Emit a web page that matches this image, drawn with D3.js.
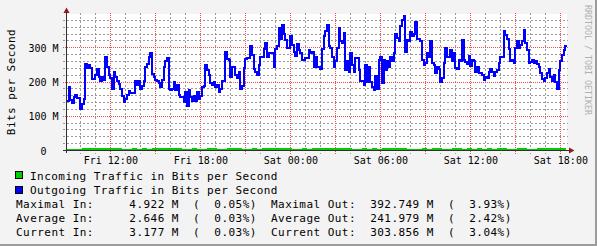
<!DOCTYPE html>
<html>
<head>
<meta charset="utf-8">
<script src="https://cdn.jsdelivr.net/npm/d3@7"></script>
<style>
body { margin: 0; background: #f3f3f3; }
svg { display: block; }
text { font-family: "DejaVu Sans Mono", monospace; fill: #000; }
</style>
</head>
<body>
<svg id="chart" width="597" height="246"></svg>
<script>
// outgoing traffic, Mbit/s, one sample every 400 s starting Fri 09:06:40
const outStart = new Date(2024, 0, 5, 9, 6, 40);
const outStepSec = 400;
const outM = [
  145,185,147,139,155,162,152,152,120,135,150,252,240,250,240,208,208,220,237,216,
  204,216,206,274,245,221,211,181,230,216,204,194,181,159,142,149,162,174,167,169,
  169,204,191,204,181,188,204,243,253,274,286,224,214,206,204,198,186,
  206,245,262,270,181,176,181,201,176,190,162,155,155,142,172,129,176,155,145,159,
  145,172,149,159,186,188,250,235,221,198,191,201,186,191,172,181,204,204,289,267,
  265,216,243,243,221,211,230,181,188,240,267,270,270,305,280,237,230,221,250,273,
  273,296,314,274,284,284,284,243,296,306,358,326,365,341,324,299,299,335,309,289,
  276,312,294,284,265,265,270,270,292,284,289,243,273,243,243,237,296,333,348,365,
  304,299,274,245,260,300,358,319,314,343,235,260,230,284,250,230,270,270,235,204,
  204,191,250,201,245,201,186,178,218,181,263,274,196,263,235,260,245,273,260,284,
  341,329,321,363,382,392.7,289,324,321,345,333,341,374,326,326,319,265,250,255,284,
  274,319,255,250,225,243,237,201,211,255,299,274,274,294,260,284,240,237,265,260,
  324,265,257,253,276,247,265,260,230,245,225,227,221,206,216,211,230,237,230,218,
  230,235,255,274,274,348,338,326,296,260,265,255,299,319,299,309,319,353,314,294,
  255,257,265,255,260,253,245,227,208,204,211,225,237,216,204,221,201,181,235,260,
  279,294,303.9
];

// incoming traffic, Mbit/s, one sample every 20 min from the same start
const inStepSec = 1200;
const inM = [
  2.2,2.0,2.3,2.5,4.2,4.4,4.0,2.6,2.4,3.9,4.1,2.3,1.8,2.5,2.2,3.8,2.0,2.4,2.6,4.3,
  4.6,4.9,4.1,2.2,2.0,2.5,2.3,2.1,3.9,2.4,2.2,2.0,2.6,4.0,3.8,2.3,2.1,2.4,2.2,2.5,
  2.6,3.9,4.1,4.0,3.7,2.3,2.0,2.4,2.2,2.5,3.8,4.0,3.9,4.2,3.8,4.0,2.6,2.3,2.1,2.4,
  2.2,2.5,2.3,3.9,4.1,3.8,3.7,2.4,2.2,2.0,2.3,2.5,2.1,2.6,2.4,2.2,1.4,2.5,2.7,2.3,
  2.4,2.2,2.6,2.1,2.5,2.3,2.8,2.4,2.2,2.0,2.5,2.6,2.3,2.1,2.6,2.7,2.5,2.6,2.7,3.18
];

const domainStart = new Date(2024, 0, 5, 9, 2, 40);
const domainEnd = new Date(2024, 0, 6, 18, 22, 40);

const xTickTimes = [
  new Date(2024, 0, 5, 12), new Date(2024, 0, 5, 18), new Date(2024, 0, 6, 0),
  new Date(2024, 0, 6, 6), new Date(2024, 0, 6, 12), new Date(2024, 0, 6, 18)
];
const xTickLabels = ["Fri 12:00", "Fri 18:00", "Sat 00:00", "Sat 06:00", "Sat 12:00", "Sat 18:00"];
const yTickValues = [0, 100, 200, 300];
const yTickLabels = ["0  ", "100 M", "200 M", "300 M"];

const legendLabels = ["Incoming Traffic in Bits per Second", "Outgoing Traffic in Bits per Second"];
const legendColors = ["#00cc00", "#0000ff"];
const statNames = ["Maximal", "Average", "Current"];
const inStat = ["4.922", "2.646", "3.177"];
const inPct = ["0.05", "0.03", "0.03"];
const outStat = ["392.749", "241.979", "303.856"];
const outPct = ["3.93", "2.42", "3.04"];

const svg = d3.select("#chart");

const x = d3.scaleTime().domain([domainStart, domainEnd]).range([66, 566]);
const y = d3.scaleLinear().domain([0, 400]).range([150.5, 13.5]);

// frame
svg.append("rect").attr("width", 597).attr("height", 246).attr("fill", "#f3f3f3");
svg.append("rect").attr("x", 595).attr("y", 0).attr("width", 2).attr("height", 246).attr("fill", "#9c9c9c");
svg.append("rect").attr("x", 0).attr("y", 244).attr("width", 597).attr("height", 2).attr("fill", "#9c9c9c");

// plot background
svg.append("rect").attr("x", 66).attr("y", 14).attr("width", 501).attr("height", 137).attr("fill", "#fff");

// grid
const grid = svg.append("g").attr("shape-rendering", "crispEdges").attr("stroke-width", 1);
const hours = d3.timeHour.range(domainStart, domainEnd);
const minorY = d3.range(20, 400, 20).filter(v => v % 100 !== 0);

grid.selectAll(".vmin").data(hours.filter(h => h.getHours() % 3 !== 0)).join("line")
  .attr("x1", d => x(d)).attr("x2", d => x(d)).attr("y1", 13).attr("y2", 154)
  .attr("stroke", "#9a9a9a").attr("stroke-dasharray", "2,2");
grid.selectAll(".hmin").data(minorY).join("line")
  .attr("x1", 63).attr("x2", 568).attr("y1", d => y(d)).attr("y2", d => y(d))
  .attr("stroke", "#9a9a9a").attr("stroke-dasharray", "2,2");
grid.selectAll(".vmaj").data(hours.filter(h => h.getHours() % 3 === 0)).join("line")
  .attr("x1", d => x(d)).attr("x2", d => x(d)).attr("y1", 13).attr("y2", 154)
  .attr("stroke", "#f05050").attr("stroke-dasharray", "1,1");
grid.selectAll(".hmaj").data([100, 200, 300]).join("line")
  .attr("x1", 63).attr("x2", 568).attr("y1", d => y(d)).attr("y2", d => y(d))
  .attr("stroke", "#f05050").attr("stroke-dasharray", "1,1");

// series
const inData = inM.map((v, i) => ({ t: new Date(+outStart + i * inStepSec * 1000), v }));
inData.push({ t: domainEnd, v: inM[inM.length - 1] });
const outData = outM.map((v, i) => ({ t: new Date(+outStart + i * outStepSec * 1000), v }));
outData.push({ t: new Date(+outStart + outM.length * outStepSec * 1000), v: outM[outM.length - 1] });

// area sits on top of the axis row, like rrdtool's pixel grid
svg.append("path").datum(inData)
  .attr("d", d3.area().x(d => x(d.t)).y0(y(0) - 0.5).y1(d => y(d.v) - 1.2).curve(d3.curveStepAfter))
  .attr("fill", "#00cc00").attr("shape-rendering", "crispEdges");

svg.append("path").datum(outData)
  .attr("d", d3.line().x(d => x(d.t)).y(d => y(d.v)).curve(d3.curveStepAfter))
  .attr("fill", "none").attr("stroke", "#0000ff").attr("stroke-width", 2)
  .attr("shape-rendering", "crispEdges");

// axis lines + arrows
svg.append("line").attr("x1", 63).attr("x2", 570).attr("y1", 150.5).attr("y2", 150.5).attr("stroke", "#303030");
svg.append("line").attr("x1", 66.5).attr("x2", 66.5).attr("y1", 11).attr("y2", 153).attr("stroke", "#303030");
svg.append("path").attr("d", "M63.5,13L69.5,13L66.5,7.5Z").attr("fill", "#8a1c1c");
svg.append("path").attr("d", "M569,147.5L569,153.5L574.5,150.5Z").attr("fill", "#8a1c1c");

// axes labels
const xAxis = svg.append("g").attr("transform", "translate(0,150)")
  .call(d3.axisBottom(x).tickValues(xTickTimes).tickSize(0)
    .tickFormat((d, i) => xTickLabels[i]));
xAxis.select(".domain").remove();
xAxis.selectAll("text").attr("y", 13.5).attr("dy", null)
  .style("font-family", '"DejaVu Sans Mono", monospace').style("font-size", "10px").attr("fill", "#000");

const yAxis = svg.append("g").attr("transform", "translate(66,0)")
  .call(d3.axisLeft(y).tickValues(yTickValues).tickSize(0)
    .tickFormat((d, i) => yTickLabels[i]));
yAxis.select(".domain").remove();
yAxis.selectAll("text").attr("x", -7.5).attr("dy", "0.36em")
  .style("white-space", "pre")
  .style("font-family", '"DejaVu Sans Mono", monospace').style("font-size", "10px").attr("fill", "#000");

// vertical title
svg.append("text").attr("transform", "translate(15,82) rotate(-90)")
  .attr("text-anchor", "middle").style("font-size", "11px").style("letter-spacing", "0.46px")
  .text("Bits per Second");

// watermark
svg.append("text").attr("transform", "translate(584.5,5) rotate(90)")
  .style("font-size", "8.3px").style("fill", "#b0b0b0")
  .text("RRDTOOL / TOBI OETIKER");

// legend
const legend = svg.append("g");
legendLabels.forEach((lab, i) => {
  legend.append("rect").attr("x", 15.5).attr("y", 171.5 + i * 15).attr("width", 7).attr("height", 7)
    .attr("fill", legendColors[i]).attr("stroke", "#000").attr("shape-rendering", "crispEdges");
  legend.append("text").attr("x", 30).attr("y", 180 + i * 14.3)
    .style("font-size", "11px").style("letter-spacing", "0.46px").style("white-space", "pre")
    .text(lab);
});

statNames.forEach((n, i) => {
  const line = (n + " In:").padEnd(14) + inStat[i].padStart(7) + " M  (" + inPct[i].padStart(6) + "%)  " +
    (n + " Out:").padEnd(14) + outStat[i].padStart(7) + " M  (" + outPct[i].padStart(6) + "%)";
  legend.append("text").attr("x", 16).attr("y", 208 + i * 14)
    .style("font-size", "11px").style("letter-spacing", "0.46px").style("white-space", "pre")
    .text(line);
});
</script>
</body>
</html>
